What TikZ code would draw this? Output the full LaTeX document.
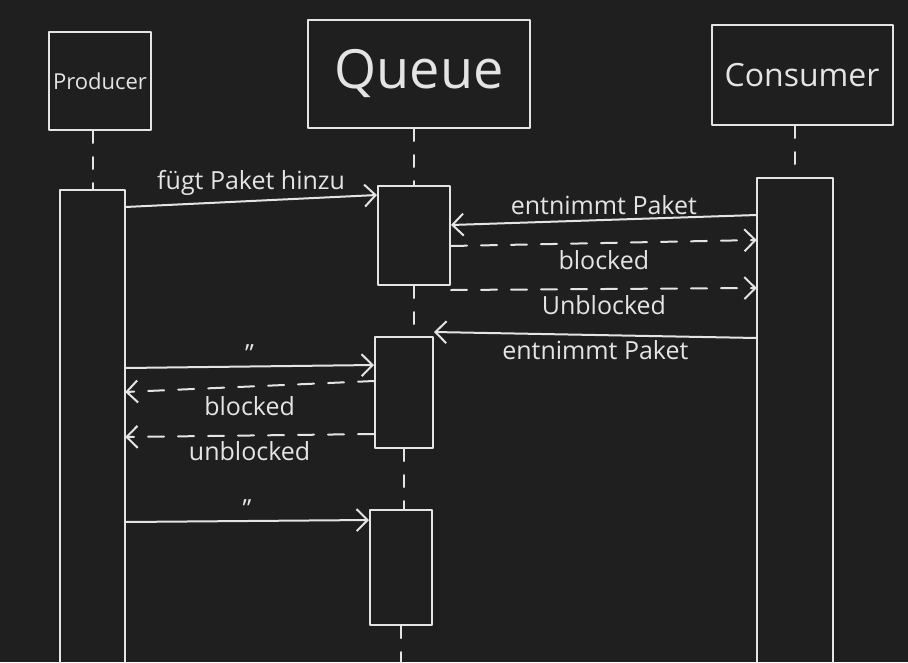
\documentclass[tikz,border=0pt]{standalone}
\usepackage{fontspec}
\setmainfont{Open Sans}
\usetikzlibrary{arrows.meta}
\definecolor{bg}{RGB}{31,31,31}
\definecolor{ink}{RGB}{228,228,228}
\tikzset{
  ink/.style={draw=ink, line width=2pt, line cap=round, line join=round},
  head/.style={ink, rectangle, inner sep=0pt, text=ink},
  actbox/.style={ink, rectangle, inner sep=0pt},
  life/.style={ink, dash pattern=on 12pt off 14pt},
  msg/.style={ink, -{Straight Barb[length=11pt,width=22pt,line width=2pt]}},
  reply/.style={msg, dash pattern=on 16pt off 14pt},
  lbl/.style={text=ink, font=\fontsize{25}{28}\selectfont, inner sep=2pt}
}
\begin{document}
\begin{tikzpicture}[x=1pt,y=-1pt]
\fill[bg] (0,0) rectangle (908,662);
\useasboundingbox (0,0) rectangle (908,662);

% heads
\node[head, minimum width=102pt, minimum height=98pt, font=\fontsize{22}{26}\selectfont] (prod) at (100,81) {Producer};
\node[head, minimum width=222pt, minimum height=108pt, font=\fontsize{54}{60}\selectfont] (queue) at (419,74) {Queue};
\node[head, minimum width=181pt, minimum height=100pt, font=\fontsize{32}{36}\selectfont] (cons) at (802,75) {Consumer};

% activation bars
\node[minimum width=65pt, minimum height=472pt, inner sep=0pt] (pact) at (92.5,426) {};
\draw[ink] (pact.south west) -- (pact.north west) -- (pact.north east) -- (pact.south east);
\node[minimum width=76pt, minimum height=484pt, inner sep=0pt] (cact) at (795,420) {};
\draw[ink] (cact.south west) -- (cact.north west) -- (cact.north east) -- (cact.south east);
\node[actbox, minimum width=72pt, minimum height=99pt] (q1) at (414,235.5) {};
\node[actbox, minimum width=58pt, minimum height=111pt] (q2) at (404,392.5) {};
\node[actbox, minimum width=62pt, minimum height=115pt] (q3) at (401,567.5) {};
\coordinate (qend) at (401,662);

% lifelines
\draw[life] (pact.north |- prod.south) -- (pact.north);
\draw[life] (q1.north |- queue.south) -- (q1.north);
\draw[life] (q1.south) -- (q1.south |- q2.north);
\draw[life] (q2.south) -- (q2.south |- q3.north);
\draw[life] (q3.south) -- (qend);
\draw[life] (cact.north |- cons.south) -- (cact.north);

% messages
\draw[msg] (pact.east |- 0,207) -- node[lbl, above=2pt] {fügt Paket hinzu} (q1.west |- 0,195);
\draw[msg] (cact.west |- 0,215) -- node[lbl, above=2pt] {entnimmt Paket} (q1.east |- 0,225);
\draw[reply] (q1.east |- 0,246) -- node[lbl, below=4pt] {blocked} (cact.west |- 0,240);
\draw[reply] (q1.east |- 0,290) -- node[lbl, below=3pt] {Unblocked} (cact.west |- 0,288);
\draw[msg] (cact.west |- 0,338) -- node[lbl, below=2pt] {entnimmt Paket} (q2.east |- 0,332);
\draw[msg] (pact.east |- 0,368) -- node[lbl, above=1pt] {''} (q2.west |- 0,365);
\draw[reply] (q2.west |- 0,381) -- node[lbl, below=7pt] {blocked} (pact.east |- 0,392);
\draw[reply] (q2.west |- 0,434) -- node[lbl, below=3pt] {unblocked} (pact.east |- 0,437);
\draw[msg] (pact.east |- 0,522) -- node[lbl, above=1pt] {''} (q3.west |- 0,520);
\end{tikzpicture}
\end{document}
